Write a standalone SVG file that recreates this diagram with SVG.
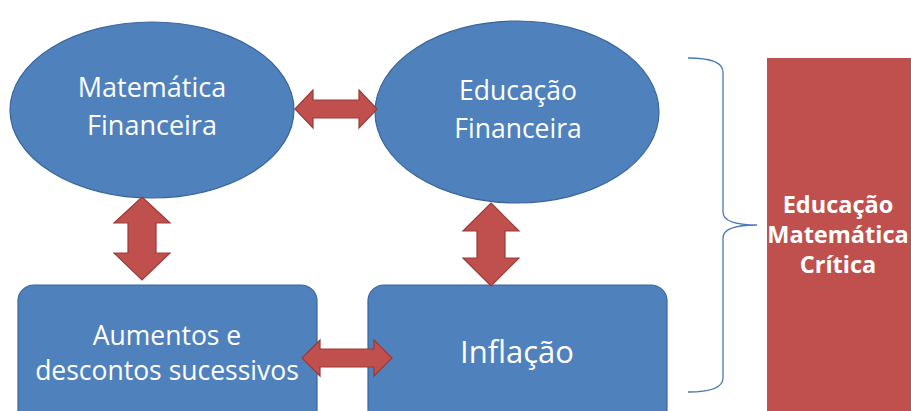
<svg xmlns="http://www.w3.org/2000/svg" width="911" height="411" viewBox="0 0 911 411">
<style>
.node{fill:#4f81bd;stroke:#3a669c;stroke-width:1.2}
.lbl{font-family:"Open Sans","Noto Sans",sans-serif;fill:#ffffff;text-anchor:middle}
.arr{fill:#c0504d;stroke:#9b3b38;stroke-width:1.2;stroke-linejoin:miter}
</style>
<rect width="911" height="411" fill="#ffffff"/>
<g id="mat-fin">
<ellipse class="node" cx="152" cy="110" rx="142" ry="88"/>
<text class="lbl" font-size="27" x="152" y="97">Matemática</text>
<text class="lbl" font-size="27" x="152" y="135">Financeira</text>
</g>
<g id="edu-fin">
<ellipse class="node" cx="517" cy="112" rx="142" ry="91"/>
<text class="lbl" font-size="26.5" x="518" y="100">Educação</text>
<text class="lbl" font-size="26.5" x="518" y="138">Financeira</text>
</g>
<g id="aumentos">
<rect class="node" x="18" y="285" width="299" height="140" rx="16"/>
<text class="lbl" font-size="26.5" x="167" y="345">Aumentos e</text>
<text class="lbl" font-size="26.5" x="167" y="380">descontos sucessivos</text>
</g>
<g id="inflacao">
<rect class="node" x="368" y="285" width="299" height="140" rx="16"/>
<text class="lbl" font-size="31" x="517" y="363">Inflação</text>
</g>
<g id="emc">
<rect x="767" y="58" width="160" height="370" fill="#c0504d"/>
<text class="lbl" font-size="23.5" font-weight="bold" x="838" y="213">Educação</text>
<text class="lbl" font-size="23.5" font-weight="bold" x="838" y="243">Matemática</text>
<text class="lbl" font-size="23.5" font-weight="bold" x="838" y="273">Crítica</text>
</g>
<g id="connectors">
<path class="arr" d="M295,109 L313,90 L313,100 L359,100 L359,90 L377,109 L359,128 L359,118 L313,118 L313,128 Z"/>
<path class="arr" d="M302,358 L320,340 L320,349 L374,349 L374,340 L392,358 L374,376 L374,367 L320,367 L320,376 Z"/>
<path class="arr" d="M142,197 L170,223 L156,223 L156,253 L170,253 L142,280 L114,253 L128,253 L128,223 L114,223 Z"/>
<path class="arr" d="M491,203 L519,231 L505,231 L505,258 L519,258 L491,286 L463,258 L477,258 L477,231 L463,231 Z"/>
<path d="M688,58 Q723,58 723,72 L723,212 Q723,225 757,225 Q723,225 723,238 L723,378 Q723,392 688,392" fill="none" stroke="#4a7ab8" stroke-width="1.3"/>
</g>
</svg>
